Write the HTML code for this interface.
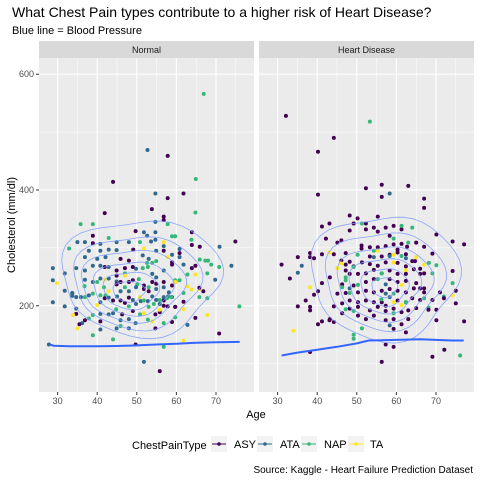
<!DOCTYPE html>
<html><head><meta charset="utf-8"><style>
html,body{margin:0;padding:0;background:#fff;}
svg text{font-family:"Liberation Sans",Arial,sans-serif;}
</style></head><body>
<svg id="chart" width="480" height="480" viewBox="0 0 480 480" xmlns="http://www.w3.org/2000/svg">
<rect width="480" height="480" fill="#fff"/>
<text x="12" y="17" font-size="14" fill="#000">What Chest Pain types contribute to a higher risk of Heart Disease?</text>
<text x="12" y="34" font-size="11" fill="#000">Blue line = Blood Pressure</text>
<text transform="translate(15,225) rotate(-90)" text-anchor="middle" font-size="11" fill="#000">Cholesterol (mm/dl)</text>
<text x="256" y="418" text-anchor="middle" font-size="11" fill="#000">Age</text>
<g>
<text x="132" y="449" font-size="11" fill="#000">ChestPainType</text>
<g><rect x="211" y="436" width="16" height="16" fill="#F2F2F2"/><line x1="212" y1="444" x2="226" y2="444" stroke="#440154"/><circle cx="219" cy="444" r="1.8" fill="#440154"/><text x="234" y="448" font-size="11">ASY</text></g>
<g><rect x="257" y="436" width="16" height="16" fill="#F2F2F2"/><line x1="258" y1="444" x2="272" y2="444" stroke="#31688E"/><circle cx="265" cy="444" r="1.8" fill="#31688E"/><text x="280" y="448" font-size="11">ATA</text></g>
<g><rect x="301" y="436" width="16" height="16" fill="#F2F2F2"/><line x1="302" y1="444" x2="316" y2="444" stroke="#35B779"/><circle cx="309" cy="444" r="1.8" fill="#35B779"/><text x="324" y="448" font-size="11">NAP</text></g>
<g><rect x="348" y="436" width="16" height="16" fill="#F2F2F2"/><line x1="349" y1="444" x2="363" y2="444" stroke="#FDE725"/><circle cx="356" cy="444" r="1.8" fill="#FDE725"/><text x="370" y="448" font-size="11">TA</text></g>
</g>
<text x="473" y="473" text-anchor="end" font-size="10" fill="#000">Source: Kaggle - Heart Failure Prediction Dataset</text>
</svg>
<script>
const panels = ["Normal", "Heart Disease"];
const xTicks = [30, 40, 50, 60, 70];
const xMinor = [35, 45, 55, 65, 75];
const yTicks = [200, 400, 600];
const yMinor = [100, 300, 500];
const typeNames = ["ASY", "ATA", "NAP", "TA"];
// [age, cholesterol, typeIndex] 0=ASY 1=ATA 2=NAP 3=TA
const normalPoints = [
[66.9,566,2],[52.7,469,1],[57.8,459,0],[44,414,0],[64.9,419,2],
[54.7,394,1],[61.8,394,0],[57.8,386,0],[53.8,367,0],[41.9,360,0],[64.8,361,2],[56.8,354,0],[56.8,348,0],[54.7,345,1],[57.8,341,2],[35.8,341,2],[38.9,341,2],
[49.7,329,0],[51.8,327,1],[54.7,327,1],[63.9,327,0],[58.9,320,2],[59.7,320,2],[38.9,321,0],[52.6,321,1],[42.9,317,2],[63.8,314,2],[54.7,314,1],[53.6,311,1],[56.8,310,3],
[35,310,1],[36.9,310,1],[40.8,307,1],[44.9,310,1],[48,310,1],[38.9,308,0],[50.8,310,2],[63.9,305,0],[65.9,302,0],[70.9,302,1],[74.9,311,0],[32.9,299,2],
[37.9,295,1],[40.8,295,1],[42.9,297,1],[44.9,296,1],[49.1,297,0],[51.8,299,3],[54.9,295,1],[56.8,303,1],[60.8,298,1],[56.8,295,0],[60.8,291,0],
[36.9,284,1],[40,281,1],[42.1,284,1],[45.9,281,0],[48,278,0],[51.5,287,1],[53,281,1],[52.6,274,2],[53.9,274,2],[54.9,277,2],[57.8,284,3],[58.9,288,1],[58.9,275,0],[58.9,271,0],[60.8,284,1],[61.8,271,1],
[65.9,280,2],[67.3,278,2],[68,278,2],[68.8,271,2],[70.8,267,2],[73.9,269,1],[28.8,265,1],[31.8,256,1],[34.7,265,1],[36.9,261,1],[38.9,269,1],[40.8,269,1],[42.9,267,1],
[41.9,267,0],[44.9,261,0],[47,265,0],[49,267,0],[44.9,252,0],[47,256,2],[51.5,265,2],[52.8,267,2],[49.8,264,1],[53.9,255,1],[54.9,249,1],[56.8,261,1],[63.9,265,0],[64.8,269,0],[64.8,254,3],[69.8,245,1],[67.8,256,2],[62.8,254,2],
[28.8,244,1],[31.8,226,1],[29.8,239,3],[36.9,245,1],[38.9,241,1],[40.8,247,1],[42.9,247,1],[44.9,242,1],[40,241,2],[36.8,234,2],[41.7,232,2],[41.9,245,3],[42.9,225,3],[47,252,3],
[44.9,237,0],[45.9,241,0],[48,241,0],[49,244,0],[51.8,235,0],[53.9,241,0],[47,232,2],[50.1,237,2],[50.5,246,2],[53,232,2],[45.9,225,1],[48,225,1],[49.8,232,1],[54.9,229,1],[56.8,232,1],[58.1,223,1],
[51.8,229,0],[53,225,0],[54.9,238,0],[56.8,241,0],[58.9,235,0],[59.7,241,0],[59.7,244,2],[60.8,244,2],[59.7,241,3],[62.8,234,3],[63.8,228,3],[65.8,229,3],[65.8,231,0],[66.8,225,0],[61.8,222,2],[65.8,215,2],[67.8,213,2],
[33.7,222,1],[34.7,215,1],[35.9,215,1],[36.9,215,2],[38.9,221,2],[40.8,218,2],[42.1,218,2],[37.9,218,1],[40.8,206,1],[42.9,214,1],[45,216,1],[41.9,213,0],[44,209,0],[45.9,209,0],[47,205,0],[48,214,0],
[49,210,1],[49.8,203,1],[51,208,1],[52.8,208,1],[53.9,216,1],[54.9,210,1],[55.8,203,1],[56.8,215,1],[57.9,216,1],[58.9,215,1],[51.8,209,2],[53,198,2],[54.3,203,2],[55.8,210,2],[57.6,213,2],[58.7,215,2],[50.8,215,3],[40,201,3],
[56.8,200,0],[57.8,199,0],[56.8,209,0],[59.7,198,0],[61.8,207,0],[28.8,206,1],[31.8,199,1],[33.7,221,1],[33.7,217,1],
[38.9,184,2],[44.8,194,2],[48,199,2],[50.8,185,2],[52.8,176,2],[34.7,195,1],[40.8,186,1],[42.9,185,1],[44,187,1],[45.9,175,1],[48,177,1],[49.7,170,1],
[34.7,186,0],[36.9,175,0],[40.8,173,0],[46.3,185,0],[49,191,0],[54.7,185,0],[55.8,189,0],[58.9,172,0],[59.7,198,0],[64.8,179,0],[70.8,152,0],
[33.9,184,3],[35,161,3],[51.8,187,3],[53.9,173,3],[55.7,193,3],[61.8,194,3],[67.8,184,3],[37.9,178,2],[45.9,165,2],[56.8,170,2],[59.7,180,2],[38.9,149,2],[44,142,2],[75.9,199,2],
[36.2,170,1],[40.8,159,1],[44.9,161,1],[48,161,1],[62.8,167,1],[27.8,133,1],[35.5,168,0],[54.7,161,0],[49.7,133,0],[61.8,140,3],[56.8,129,2],[51.8,103,1],[55.8,87,0]
];
const diseasePoints = [
[32.1,528,0],[53.3,518,2],[44.2,490,0],[40.2,466,0],[56.3,409,0],[63,407,0],[52.3,403,0],[58.3,394,1],[56.3,388,0],[40.2,392,0],[67,385,0],[67,369,0],
[48.2,356,0],[55.3,354,0],[50.2,351,0],[52.3,342,0],[49.2,342,0],[51.3,342,2],[43.1,342,0],[41.2,337,0],[52.3,332,0],[54.3,335,0],[57.3,335,0],[59.3,338,0],[48.2,330,0],[61.3,332,0],[61.3,338,2],[64,335,2],
[58.3,321,0],[55.3,328,0],[42.2,316,0],[45.1,309,0],[46.1,313,0],[70.1,323,0],[74.2,311,0],[77.1,306,0],[59.3,316,2],[63,309,2],
[51.2,304,0],[53.3,301,0],[55.3,301,0],[57.3,303,0],[59.3,306,0],[61.3,307,0],[65,309,0],[67,302,0],[51.2,299,0],[62.7,302,0],[60.3,297,0],[54.3,295,2],[43.1,292,3],[55.3,295,3],
[38.2,291,0],[41.2,289,0],[44.2,289,0],[47.2,291,0],[53.3,285,0],[56.3,285,0],[58.3,288,0],[60.3,292,0],[62.4,289,0],[64.7,277,0],[69.1,290,0],[50.2,288,2],[61.3,286,2],[68.2,274,2],
[54.3,284,1],[58.3,286,1],[62.4,282,1],[59.3,288,3],[65,284,3],[67,271,3],
[35.1,284,0],[38.2,284,0],[39.2,282,0],[31,271,0],[33.1,247,0],[46.1,278,0],[48.2,276,0],[47.2,271,0],[49.2,268,0],[51.3,275,0],[53.3,272,0],[55.3,269,0],[57.3,275,0],[60.3,274,0],[62.4,268,0],[64,277,0],[66,264,0],[67,256,0],
[46.1,273,3],[45.1,265,3],[59.3,275,3],[62.4,261,3],[36.1,269,1],[35.1,257,1],[56.3,256,1],[49.2,267,2],[70.1,270,2],[69.1,256,2],
[47.2,261,0],[48.2,255,0],[50.3,255,0],[52.3,256,0],[54.3,262,0],[58.3,261,0],[60.3,255,0],[62.4,255,0],[64.4,263,0],[66,255,0],[74.2,260,0],[41.2,239,0],
[47.2,249,2],[47.2,244,2],[55.3,246,2],[56.3,256,2],
[46.3,237,0],[49.2,235,0],[52.3,241,0],[54.3,246,0],[58.3,246,0],[60.3,241,0],[62.4,243,0],[65,239,0],[67,230,0],[43.2,249,0],[74.2,239,2],[46.3,232,2],[50.3,236,2],[61.3,236,3],[38.2,232,3],[48.2,230,1],[57.3,237,1],
[45.1,221,0],[47.2,222,0],[50.3,223,0],[52.3,226,0],[54.3,223,0],[56.3,226,0],[58.3,229,0],[60.3,226,0],[62.4,223,0],[64.4,230,0],[66,230,0],[67,223,0],[71,223,0],[75,226,0],[40.2,225,0],[39.2,219,0],
[48.2,222,2],[59.3,221,2],[67,213,2],[72,216,2],[74.2,218,3],[59.3,206,3],[61.3,201,3],[57.3,221,1],[58.3,215,1],
[37.1,209,0],[46.3,204,0],[48.2,209,0],[50.3,206,0],[52.3,209,0],[54.3,206,0],[56.3,206,0],[57.3,200,0],[60.3,209,0],[62.4,206,0],[64,213,0],[66,210,0],[69.1,210,0],[72,213,0],[75,204,0],[56.2,211,2],[62.4,206,2],[68.1,197,2],
[35.1,199,0],[38.2,198,0],[38.2,192,0],[44.2,199,0],[48.2,195,0],[50.3,198,0],[53.3,192,0],[55.3,198,0],[57.3,191,0],[59.3,195,0],[61.3,189,0],[63,192,0],[65,196,0],[68.1,193,0],[70.1,193,0],[46.3,187,0],
[47.2,194,2],[49.2,191,2],[59.3,187,2],
[43.2,177,0],[43.1,175,0],[41.2,173,0],[44.2,172,0],[40.2,168,0],[50.3,183,0],[54.3,183,0],[52.3,177,0],[57.3,175,0],[59.3,177,0],[61.3,168,0],[63,177,0],[70.1,175,0],[77.1,173,0],[62.4,154,0],[59.3,160,0],
[58.3,166,1],[34,157,3],[51.3,161,2],[49.2,150,2],[49.2,143,2],[57.3,133,0],[59.3,129,0],[38.2,120,0],[72.1,124,0],[69.1,112,0],[56.3,103,0],[76.1,114,2]
];
// Blood pressure smooth lines: ages and values
const bpAgesNormal = [28, 29, 33, 40, 45, 50, 55, 60, 65, 70, 76];
const bpValsNormal = [133, 131, 130, 130, 130.5, 131.5, 133, 134.5, 136, 137, 137.5];
const bpAgesDisease = [31, 35, 40, 45, 50, 53, 60, 66, 70, 74, 77];
const bpValsDisease = [114, 119, 124, 129, 135, 140, 141, 142, 141, 140, 140];
// density contour rings: [centerAge, centerChol, radiusAge, radiusChol]
const contoursNormal = [[51,250,20,100],[50,242,16,80],[49,236,13,62],[49,231,10,46],[48.5,227,7,32],[48,225,4,18]];
const contoursDisease = [[57,250,18.6,107],[57,245,15,84],[57,240,12,64],[57,236,9,47],[57,233,6,32],[57,232,3.2,17]];

const colors = ["#440154", "#31688E", "#35B779", "#FDE725"];
const NS = "http://www.w3.org/2000/svg";
const svg = document.getElementById("chart");
const plotTop = 58, plotBottom = 392, panelW = 215;
const panelX = [39, 259];
const ageMin = 25.3, ageMax = 79.6, cholMin = 51, cholMax = 628;
function xScale(p, a) { return panelX[p] + (a - ageMin) / (ageMax - ageMin) * panelW; }
function yScale(c) { return plotBottom - (c - cholMin) / (cholMax - cholMin) * (plotBottom - plotTop); }
function mk(tag, attrs, parent) {
  const e = document.createElementNS(NS, tag);
  for (const k in attrs) e.setAttribute(k, attrs[k]);
  (parent || svg).appendChild(e);
  return e;
}
const allPoints = [normalPoints, diseasePoints];
const bpA = [bpAgesNormal, bpAgesDisease], bpV = [bpValsNormal, bpValsDisease];
const cont = [contoursNormal, contoursDisease];
panels.forEach((name, p) => {
  const g = mk("g", {});
  
  
  const bg = mk("rect", {x: panelX[p], y: plotTop, width: panelW, height: plotBottom - plotTop, fill: "#EBEBEB"}, g);
  
  
  const strip = mk("rect", {x: panelX[p], y: 41, width: panelW, height: 17, fill: "#D9D9D9"}, g);
  
  
  const st = mk("text", {x: panelX[p] + panelW / 2, y: 53, "text-anchor": "middle", "font-size": 9, fill: "#1A1A1A"}, g);
  st.textContent = name;
  
  
  yMinor.forEach(v => { const l = mk("line", {x1: panelX[p], x2: panelX[p] + panelW, y1: yScale(v), y2: yScale(v), stroke: "#fff", "stroke-width": 0.5}, g);   });
  xMinor.forEach(v => { const l = mk("line", {x1: xScale(p, v), x2: xScale(p, v), y1: plotTop, y2: plotBottom, stroke: "#fff", "stroke-width": 0.5}, g);   });
  yTicks.forEach(v => { const l = mk("line", {x1: panelX[p], x2: panelX[p] + panelW, y1: yScale(v), y2: yScale(v), stroke: "#fff", "stroke-width": 1.1}, g);   });
  xTicks.forEach(v => {
    const l = mk("line", {x1: xScale(p, v), x2: xScale(p, v), y1: plotTop, y2: plotBottom, stroke: "#fff", "stroke-width": 1.1}, g);
    
    
    const tk = mk("line", {x1: xScale(p, v), x2: xScale(p, v), y1: plotBottom, y2: plotBottom + 3, stroke: "#333", "stroke-width": 1}, g);
    
    
    const t = mk("text", {x: xScale(p, v), y: plotBottom + 12, "text-anchor": "middle", "font-size": 9, fill: "#4D4D4D"}, g);
    t.textContent = v;
    
    
  });
  if (p === 0) {
    yTicks.forEach(v => {
      const tk = mk("line", {x1: panelX[0] - 3, x2: panelX[0], y1: yScale(v), y2: yScale(v), stroke: "#333", "stroke-width": 1}, g);
      
      
      const t = mk("text", {x: panelX[0] - 5, y: yScale(v) + 3, "text-anchor": "end", "font-size": 9, fill: "#4D4D4D"}, g);
      t.textContent = v;
      
      
    });
  }
  allPoints[p].forEach(d => {
    const c = mk("circle", {cx: xScale(p, d[0]), cy: yScale(d[1]), r: 2, fill: colors[d[2]]}, g);
    
    
  });
  cont[p].forEach(r => {
    let dstr = "";
    for (let i = 0; i <= 48; i++) {
      const t = i / 48 * Math.PI * 2;
      const wob = 1 + 0.06 * Math.sin(3 * t) + 0.04 * Math.cos(5 * t);
      const px = xScale(p, r[0] + r[2] * wob * Math.cos(t));
      const py = yScale(r[1] + r[3] * wob * Math.sin(t));
      dstr += (i ? "L" : "M") + px.toFixed(1) + "," + py.toFixed(1);
    }
    const e = mk("path", {d: dstr + "Z", fill: "none", stroke: "#7F9FFF", "stroke-width": 0.8, opacity: 0.9}, g);
    
    
  });
  const pts = bpA[p].map((a, i) => xScale(p, a).toFixed(1) + "," + yScale(bpV[p][i]).toFixed(1)).join(" ");
  const bl = mk("polyline", {points: pts, fill: "none", stroke: "#3366FF", "stroke-width": 2}, g);
  
  
});
</script>
</body></html>
